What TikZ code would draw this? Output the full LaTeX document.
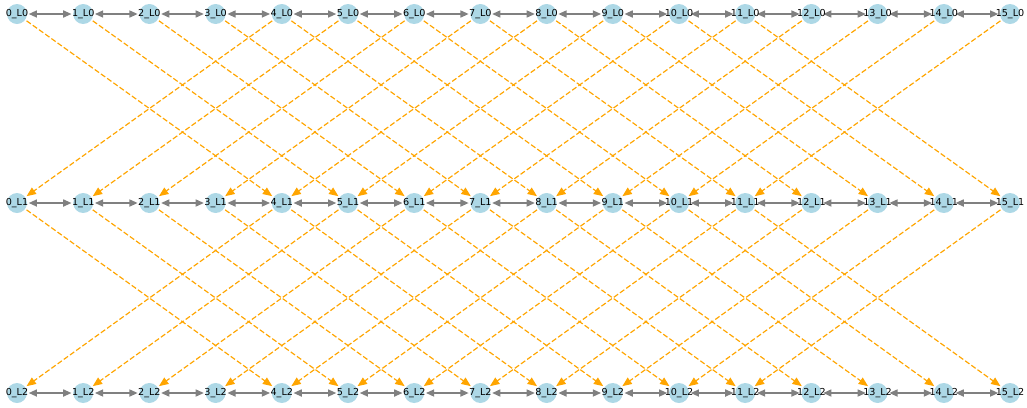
\documentclass[tikz,border=0pt]{standalone}
\usepackage{fontspec}
\setsansfont{DejaVu Sans}
\usepackage{tikz}
\usetikzlibrary{arrows.meta}

\definecolor{nodeblue}{RGB}{173,216,230}
\definecolor{edgeorange}{RGB}{255,165,0}
\definecolor{edgegray}{RGB}{128,128,128}

\begin{document}
\begin{tikzpicture}[x=0.03cm,y=-0.03cm,
  vtx/.style={circle,fill=nodeblue,minimum size=0.6cm,inner sep=0pt,outer sep=1.5pt},
  vlabel/.style={font=\sffamily\fontsize{8.2}{9}\selectfont,inner sep=0pt},
  hop/.style={edgegray,line width=1.3pt,{Triangle[length=7pt,width=6pt]}-{Triangle[length=7pt,width=6pt]}},
  jump/.style={edgeorange,line width=1pt,dash pattern=on 4.5pt off 2pt,-{Triangle[length=8pt,width=6.5pt]}}]
  \useasboundingbox (0,0) rectangle (1027,407);
  \foreach \l/\y in {0/14,1/203,2/393}
    \foreach \i in {0,...,15}
      \node[vtx] (n\i-\l) at ({17+66.2*\i},\y) {}; % 各層のノード（円）
  \foreach \l in {0,1,2}
    \foreach \i in {0,...,14} {
      \pgfmathtruncatemacro{\j}{\i+1}
      \draw[hop] (n\i-\l) -- (n\j-\l); % 同じ層の隣どうし（両向き）
    }
  \foreach \l in {0,1}
    \foreach \i in {0,...,11} {
      \pgfmathtruncatemacro{\m}{\l+1}
      \pgfmathtruncatemacro{\k}{\i+4}
      \draw[jump] (n\i-\l) -- (n\k-\m); % 次の層の右へ4つ
      \draw[jump] (n\k-\l) -- (n\i-\m); % 次の層の左へ4つ
    }
  \foreach \l in {0,1,2}
    \foreach \i in {0,...,15}
      \node[vlabel] at (n\i-\l) {\i\_L\l}; % ラベルは一番上に
\end{tikzpicture}
\end{document}
